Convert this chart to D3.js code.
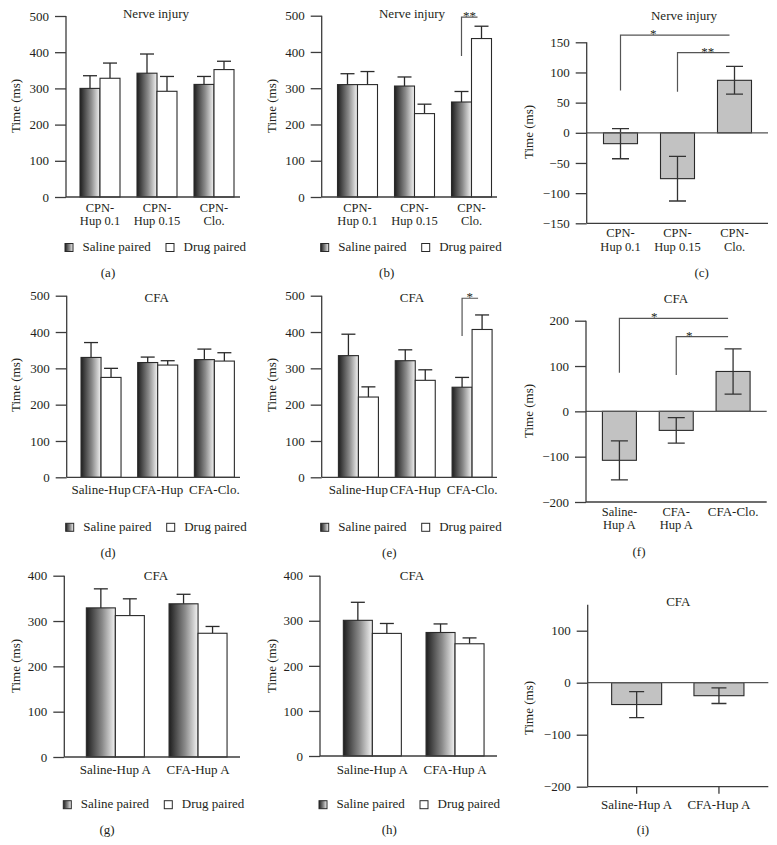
<!DOCTYPE html>
<html><head><meta charset="utf-8">
<script src="https://cdn.jsdelivr.net/npm/d3@7"></script>
<style>
body{margin:0;background:#fff}
svg{display:block}
text{font-family:"Liberation Serif","Times New Roman",serif;fill:#231f20}
</style>
</head><body>
<svg id="chart" width="777" height="845"></svg>
<script>
// ---------------- DATA ----------------
const seriesNames = ["Saline paired", "Drug paired"];
const catsNerve = ["CPN-\nHup 0.1", "CPN-\nHup 0.15", "CPN-\nClo."];
const catsCFA = ["Saline-Hup", "CFA-Hup", "CFA-Clo."];
const catsCFAf = ["Saline-\nHup A", "CFA-\nHup A", "CFA-Clo."];
const catsHupA = ["Saline-Hup A", "CFA-Hup A"];

// (a) Nerve injury
const salineA = [300, 342, 311], salineErrA = [35, 53, 22];
const drugA = [328, 292, 352], drugErrA = [42, 41, 23];
// (b) Nerve injury
const salineB = [310, 306, 262], salineErrB = [30, 25, 29];
const drugB = [310, 230, 437], drugErrB = [36, 26, 34];
const sigB = [{from: 2, to: 2, low: 389, high: 496, label: "**"}];
// (c) Nerve injury difference
const diffC = [-18, -76, 87], errC = [25, 37, 23];
const sigC = [{from: 0, to: 2, low: 70, high: 162, label: "*"},
              {from: 1, to: 2, low: 68, high: 133, label: "**"}];
// (d) CFA
const salineD = [330, 316, 324], salineErrD = [41, 15, 29];
const drugD = [275, 309, 320], drugErrD = [25, 12, 23];
// (e) CFA
const salineE = [335, 321, 248], salineErrE = [59, 30, 27];
const drugE = [221, 267, 407], drugErrE = [28, 29, 40];
const sigE = [{from: 2, to: 2, low: 389, high: 493, label: "*"}];
// (f) CFA difference
const diffF = [-108, -42, 88], errF = [43, 28, 50];
const sigF = [{from: 0, to: 2, low: 85, high: 205, label: "*"},
              {from: 1, to: 2, low: 80, high: 165, label: "*"}];
// (g) CFA
const salineG = [329, 338], salineErrG = [42, 21];
const drugG = [312, 273], drugErrG = [37, 15];
// (h) CFA
const salineH = [301, 274], salineErrH = [40, 19];
const drugH = [272, 249], drugErrH = [22, 13];
// (i) CFA difference
const diffI = [-42, -25], errI = [25, 15];

const ticks500 = [0, 100, 200, 300, 400, 500];
const ticks400 = [0, 100, 200, 300, 400];
const ticksC = [-150, -100, -50, 0, 50, 100, 150];
const ticksF = [-200, -100, 0, 100, 200];
const ticksI = [-200, -100, 0, 100];

// ---------------- LAYOUT ----------------
const panels = [
  {type: "group", cats: catsNerve, s: salineA, se: salineErrA, d: drugA, de: drugErrA, sig: [],
   title: "Nerve injury", cap: "(a)", domain: [0, 500], ticks: ticks500,
   ax: 66, yT: 16, yB: 197, xEnd: 240, band: [71.5, 242.5], bw: 20,
   titleX: 156, titleY: 17.5, ylabX: 15, ylabY: 106, labY: 211.5, legY: 243.5, capX: 108, capY: 276.5},
  {type: "group", cats: catsNerve, s: salineB, se: salineErrB, d: drugB, de: drugErrB, sig: sigB, starFrac: [0.5],
   title: "Nerve injury", cap: "(b)", domain: [0, 500], ticks: ticks500,
   ax: 321.7, yT: 15.7, yB: 197, xEnd: 497, band: [329, 500], bw: 20,
   titleX: 412, titleY: 17.5, ylabX: 271.7, ylabY: 106, labY: 211.5, legY: 243.5, capX: 386.7, capY: 276.5},
  {type: "diff", cats: catsNerve, v: diffC, e: errC, sig: sigC, starFrac: [0.3, 0.58],
   title: "Nerve injury", cap: "(c)", domain: [-150, 150], ticks: ticksC,
   ax: 586.7, yT: 42.3, yB: 223.3, xEnd: 768, band: [592, 763], bw: 34, capW: 17,
   titleX: 684, titleY: 19.5, ylabX: 528.3, ylabY: 132, labY: 237.3, capX: 701.7, capY: 276.5},
  {type: "group", cats: catsCFA, s: salineD, se: salineErrD, d: drugD, de: drugErrD, sig: [],
   title: "CFA", cap: "(d)", domain: [0, 500], ticks: ticks500,
   ax: 66.7, yT: 295.7, yB: 477.3, xEnd: 240, band: [72.7, 242.7], bw: 20,
   titleX: 156.7, titleY: 302, ylabX: 15, ylabY: 385, labY: 493.7, legY: 523.3, capX: 108, capY: 556.5},
  {type: "group", cats: catsCFA, s: salineE, se: salineErrE, d: drugE, de: drugErrE, sig: sigE, starFrac: [0.48],
   title: "CFA", cap: "(e)", domain: [0, 500], ticks: ticks500,
   ax: 321.7, yT: 295.7, yB: 477.3, xEnd: 497, band: [330, 500.5], bw: 20,
   titleX: 412, titleY: 302, ylabX: 271.7, ylabY: 385, labY: 493.7, legY: 523.3, capX: 389.3, capY: 556.5},
  {type: "diff", cats: catsCFAf, v: diffF, e: errF, sig: sigF, starFrac: [0.32, 0.25],
   title: "CFA", cap: "(f)", domain: [-200, 200], ticks: ticksF,
   ax: 586, yT: 320.7, yB: 502, xEnd: 766.7, band: [591, 761.5], bw: 34, capW: 17,
   titleX: 676, titleY: 303, ylabX: 528.3, ylabY: 411, labY: 515.7, capX: 639, capY: 556},
  {type: "group", cats: catsHupA, s: salineG, se: salineErrG, d: drugG, de: drugErrG, sig: [],
   title: "CFA", cap: "(g)", domain: [0, 400], ticks: ticks400,
   ax: 64.3, yT: 575.7, yB: 757, xEnd: 240, band: [74, 239.4], bw: 29,
   titleX: 156, titleY: 580, ylabX: 15, ylabY: 666, labY: 773.7, legY: 800.7, capX: 107, capY: 834},
  {type: "group", cats: catsHupA, s: salineH, se: salineErrH, d: drugH, de: drugErrH, sig: [],
   title: "CFA", cap: "(h)", domain: [0, 400], ticks: ticks400,
   ax: 320, yT: 575.7, yB: 756, xEnd: 497, band: [331, 496.4], bw: 29,
   titleX: 412, titleY: 580, ylabX: 271.7, ylabY: 666, labY: 773.7, legY: 800.7, capX: 389.3, capY: 834},
  {type: "diff", cats: catsHupA, v: diffI, e: errI, sig: [], bottomTicks: true,
   title: "CFA", cap: "(i)", domain: [-200, 150], ticks: ticksI,
   ax: 587.7, yT: 604.7, yB: 786.7, xEnd: 768.3, band: [595.5, 760.1], bw: 50, capW: 15,
   titleX: 678.3, titleY: 605.5, ylabX: 528.3, ylabY: 708, labY: 809, capX: 643, capY: 834}
];

const svg = d3.select("#chart");
const defs = svg.append("defs");
const grad = defs.append("linearGradient").attr("id", "salGrad")
  .attr("x1", "0%").attr("x2", "100%").attr("y1", "0%").attr("y2", "0%");
grad.append("stop").attr("offset", "0%").attr("stop-color", "#1e1e1e");
grad.append("stop").attr("offset", "55%").attr("stop-color", "#8a8a8a");
grad.append("stop").attr("offset", "100%").attr("stop-color", "#f4f4f4");

const AX = "#3c3c3c", BAR = "#2a2a2a", FS = 13;

function drawCommon(g, p, y, x) {
  // y axis
  const ya = d3.axisLeft(y).tickValues(p.ticks).tickSize(11).tickSizeOuter(0).tickPadding(6)
    .tickFormat(d3.format("d"));
  const ag = g.append("g").attr("transform", `translate(${p.ax},0)`).call(ya);
  ag.select(".domain").attr("stroke", AX).attr("stroke-width", 1.3)
    .attr("d", `M0,${p.yT}V${p.yB}`);
  ag.selectAll(".tick line").attr("stroke", AX).attr("stroke-width", 1.3);
  ag.selectAll(".tick text").attr("font-size", FS).attr("font-family", "Liberation Serif").attr("fill", "#231f20");
  // title
  g.append("text").attr("x", p.titleX).attr("y", p.titleY).attr("text-anchor", "middle")
    .attr("font-size", FS).text(p.title);
  // y label
  g.append("text").attr("transform", `translate(${p.ylabX + 4.5},${p.ylabY}) rotate(-90)`)
    .attr("text-anchor", "middle").attr("font-size", FS).text("Time (ms)");
  // category labels (two-line labels as separate text lines)
  p.cats.forEach((c, i) => {
    const lines = c.split("\n");
    const multi = lines.length > 1;
    lines.forEach((line, k) => {
      g.append("text").attr("text-anchor", "middle")
        .attr("font-size", multi ? 12.5 : FS)
        .attr("x", x(i) + x.bandwidth() / 2).attr("y", p.labY + k * 13.5).text(line);
    });
  });
  // caption
  g.append("text").attr("x", p.capX).attr("y", p.capY).attr("text-anchor", "middle")
    .attr("font-size", FS).text(p.cap);
}

function drawSig(g, p, y, xs) {
  p.sig.forEach((s, k) => {
    const x1 = xs(s, "from"), x2 = xs(s, "to");
    g.append("path").attr("fill", "none").attr("stroke", "#555").attr("stroke-width", 1.2)
      .attr("d", `M${x1},${y(s.low)}V${y(s.high)}H${x2}`);
    const f = p.starFrac[k];
    g.append("text").attr("x", x1 + (x2 - x1) * f).attr("y", y(s.high) + 3)
      .attr("text-anchor", "middle").attr("font-size", FS).attr("fill", "#444").text(s.label);
  });
}

function drawGroup(p) {
  const g = svg.append("g");
  const y = d3.scaleLinear().domain(p.domain).range([p.yB, p.yT]);
  const x = d3.scaleBand().domain(d3.range(p.cats.length)).range(p.band);
  const cx = i => x(i) + x.bandwidth() / 2;
  const series = [
    {vals: p.s, errs: p.se, off: -p.bw, fill: "url(#salGrad)"},
    {vals: p.d, errs: p.de, off: 0, fill: "#ffffff"}
  ];
  series.forEach(sr => {
    g.selectAll(null).data(sr.vals).join("line")
      .attr("x1", (d, i) => cx(i) + sr.off + p.bw / 2).attr("x2", (d, i) => cx(i) + sr.off + p.bw / 2)
      .attr("y1", d => y(d)).attr("y2", (d, i) => y(d + sr.errs[i]))
      .attr("stroke", BAR).attr("stroke-width", 1.3);
    g.selectAll(null).data(sr.vals).join("line")
      .attr("x1", (d, i) => cx(i) + sr.off + p.bw / 2 - 7).attr("x2", (d, i) => cx(i) + sr.off + p.bw / 2 + 7)
      .attr("y1", (d, i) => y(d + sr.errs[i])).attr("y2", (d, i) => y(d + sr.errs[i]))
      .attr("stroke", BAR).attr("stroke-width", 1.3);
    g.selectAll(null).data(sr.vals).join("rect")
      .attr("x", (d, i) => cx(i) + sr.off).attr("width", p.bw)
      .attr("y", d => y(d)).attr("height", d => y(0) - y(d))
      .attr("fill", sr.fill).attr("stroke", BAR).attr("stroke-width", 1.1);
  });
  g.append("line").attr("x1", p.ax).attr("x2", p.xEnd).attr("y1", y(0)).attr("y2", y(0))
    .attr("stroke", AX).attr("stroke-width", 1.3);
  drawCommon(g, p, y, x);
  drawSig(g, p, y, (s, k) => k === "from" ? cx(s.from) - p.bw / 2 : cx(s.to) + p.bw / 2 - 4);
  const lg = g.append("g");
  const items = [{name: seriesNames[0], fill: "url(#salGrad)", x: p.ax - 1},
                 {name: seriesNames[1], fill: "#fff", x: p.ax + 100}];
  items.forEach(it => {
    lg.append("rect").attr("x", it.x).attr("y", p.legY).attr("width", 8).attr("height", 8)
      .attr("fill", it.fill).attr("stroke", BAR).attr("stroke-width", 1);
    lg.append("text").attr("x", it.x + 17.5).attr("y", p.legY + 7.5).attr("font-size", FS).text(it.name);
  });
}

function drawDiff(p) {
  const g = svg.append("g");
  const y = d3.scaleLinear().domain(p.domain).range([p.yB, p.yT]);
  const x = d3.scaleBand().domain(d3.range(p.cats.length)).range(p.band);
  const cx = i => x(i) + x.bandwidth() / 2;
  g.selectAll(null).data(p.v).join("rect")
    .attr("x", (d, i) => cx(i) - p.bw / 2).attr("width", p.bw)
    .attr("y", d => y(Math.max(0, d))).attr("height", d => Math.abs(y(d) - y(0)))
    .attr("fill", "#c2c2c2").attr("stroke", BAR).attr("stroke-width", 1.1);
  g.selectAll(null).data(p.v).join("path")
    .attr("fill", "none").attr("stroke", "#333").attr("stroke-width", 1.3)
    .attr("d", (d, i) => {
      const c = cx(i), hw = p.capW / 2, t = y(d + p.e[i]), b = y(d - p.e[i]);
      return `M${c - hw},${t}H${c + hw}M${c},${t}V${b}M${c - hw},${b}H${c + hw}`;
    });
  g.append("line").attr("x1", p.ax).attr("x2", p.xEnd).attr("y1", y(0)).attr("y2", y(0))
    .attr("stroke", "#555").attr("stroke-width", 1.3);
  g.append("line").attr("x1", p.ax).attr("x2", p.xEnd).attr("y1", p.yB).attr("y2", p.yB)
    .attr("stroke", AX).attr("stroke-width", 1.3);
  if (p.bottomTicks) {
    g.selectAll(null).data(p.cats).join("line")
      .attr("x1", (d, i) => cx(i)).attr("x2", (d, i) => cx(i))
      .attr("y1", p.yB).attr("y2", p.yB + 7).attr("stroke", AX).attr("stroke-width", 1.3);
  }
  drawCommon(g, p, y, x);
  drawSig(g, p, y, (s, k) => k === "from" ? cx(s.from) : cx(s.to) - 5);
}

panels.forEach(p => p.type === "group" ? drawGroup(p) : drawDiff(p));
</script>
</body></html>
